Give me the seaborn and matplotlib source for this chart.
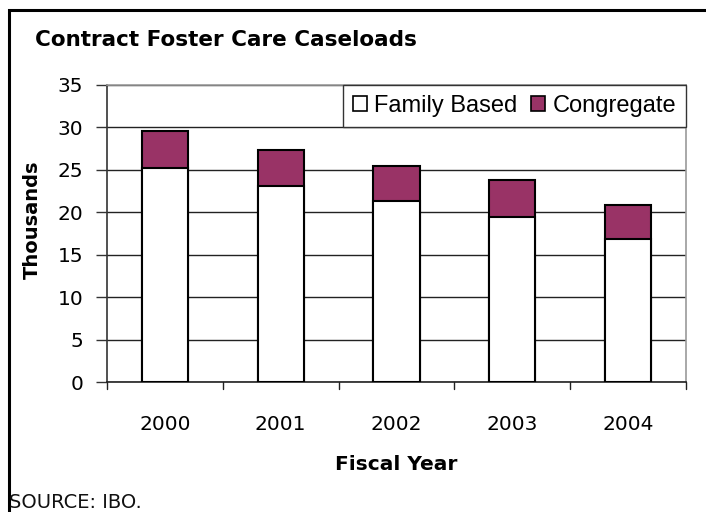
import matplotlib
matplotlib.use("Agg")
import matplotlib.pyplot as plt
import seaborn as sns
import pandas as pd
from matplotlib.patches import Patch, Rectangle

years = ["2000", "2001", "2002", "2003", "2004"]
family_based = [25.2, 23.1, 21.3, 19.5, 16.8]
congregate = [4.4, 4.2, 4.2, 4.3, 4.1]
y_ticks = [0, 5, 10, 15, 20, 25, 30, 35]

PLUM = "#993366"

sns.set_theme(style="white")
plt.rcParams["font.family"] = ["DejaVu Sans"]
plt.rcParams["text.color"] = "black"
plt.rcParams["axes.labelcolor"] = "black"

df = pd.DataFrame({
    "year": years,
    "family": family_based,
    "total": [f + c for f, c in zip(family_based, congregate)],
})

fig = plt.figure(figsize=(7.06, 5.12), dpi=100)
ax = fig.add_axes([107 / 706, 1 - 382 / 512, 579 / 706, 297 / 512])

# stacked bars: full height in plum, family-based portion drawn over it
sns.barplot(data=df, x="year", y="total", color=PLUM, saturation=1,
            width=0.4, edgecolor="black", linewidth=1.5, ax=ax, zorder=3)
sns.barplot(data=df, x="year", y="family", color="white", saturation=1,
            width=0.4, edgecolor="black", linewidth=1.5, ax=ax, zorder=4)

ax.set_ylim(0, 35)
ax.set_xlim(-0.5, len(years) - 0.5)
ax.set_yticks(y_ticks)
ax.set_yticklabels([str(t) for t in y_ticks], fontsize=14.5, color="black")
ax.tick_params(axis="x", labelsize=14.5, labelcolor="black", length=0, pad=24)
ax.tick_params(axis="y", length=8, width=1, color="#333333", left=True, pad=9)

# tick marks between categories on the x axis
for k in range(len(years) + 1):
    ax.plot([k - 0.5, k - 0.5], [0, -0.8], color="#222222", lw=1,
            clip_on=False, zorder=5)

ax.yaxis.grid(True, color="#222222", linewidth=1)
ax.set_axisbelow(True)
for side in ("top", "right"):
    ax.spines[side].set_color("#999999")
    ax.spines[side].set_linewidth(1.2)
ax.spines["left"].set_color("#333333")
ax.spines["bottom"].set_color("#222222")
ax.spines["left"].set_linewidth(1.2)
ax.spines["bottom"].set_linewidth(1.2)

ax.set_xlabel("Fiscal Year", fontsize=14.5, fontweight="bold", labelpad=15)
ax.set_ylabel("Thousands", fontsize=14, fontweight="bold", labelpad=8)
ax.yaxis.set_label_coords(-(107 - 42) / 579, (382 - 220) / 297)

handles = [
    Patch(facecolor="white", edgecolor="black", linewidth=1.2, label="Family Based"),
    Patch(facecolor=PLUM, edgecolor="black", linewidth=1.2, label="Congregate"),
]
leg = ax.legend(handles=handles, loc="upper right", ncol=2, frameon=True,
                fancybox=False, framealpha=1, edgecolor="#333333",
                bbox_to_anchor=(1.0, 1.0), borderaxespad=0,
                prop={"family": "Liberation Sans", "size": 17},
                handlelength=0.6, handleheight=0.6, handletextpad=0.3,
                columnspacing=0.6, borderpad=0.42)
leg.get_frame().set_linewidth(1.0)
leg.set_zorder(10)

fig.text(35 / 706, 1 - 40 / 512, "Contract Foster Care Caseloads",
         fontsize=15.5, fontweight="bold", ha="left", va="center")
fig.text(9 / 706, 1 - 503 / 512, "SOURCE: IBO.", fontsize=14,
         ha="left", va="center", color="#111111")

# outer frame running past the right and bottom edges
fig.patches.append(Rectangle((9 / 706, -0.2), 1.2, 1.2 - 10 / 512,
                             transform=fig.transFigure, fill=False,
                             edgecolor="black", linewidth=2.2))

fig.savefig("out.png", dpi=100)
